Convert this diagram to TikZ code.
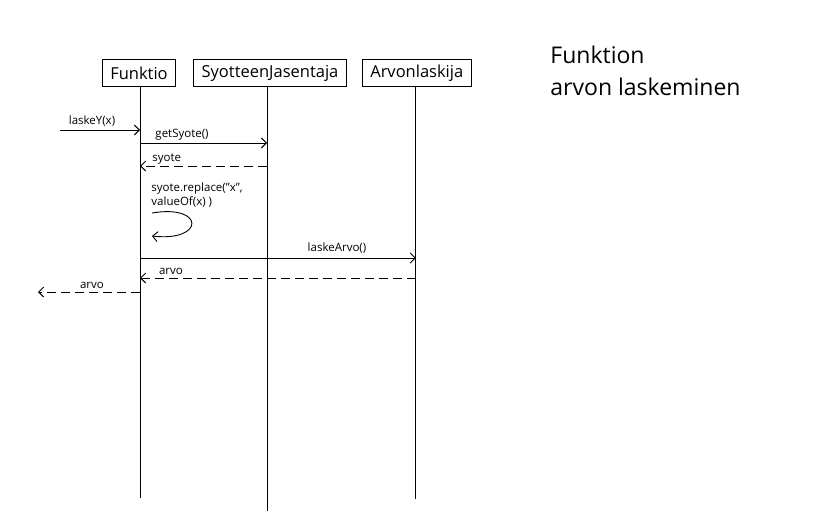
\documentclass[tikz,border=0pt]{standalone}
\usepackage{fontspec}
\setmainfont{Open Sans}
\usetikzlibrary{positioning, arrows.meta}

\begin{document}
\begin{tikzpicture}[x=1pt, y=-1pt, >={Straight Barb[length=5pt, width=10pt]}, line width=0.9pt]
    \tikzset{object/.style = {draw, rectangle, align=center, font=\fontsize{16.5}{18}\selectfont,
                              minimum height=27pt, inner xsep=8pt, inner ysep=2pt},
             call/.style = {->},
             reply/.style = {->, dash pattern=on 9pt off 5pt},
             msg/.style = {font=\fontsize{11.5}{13.5}\selectfont, inner sep=0pt, align=left}
            }
    \useasboundingbox (0,0) rectangle (819,522);
    \node (funktio) [object] at (139,73) {Funktio};
    \node (jasentaja) [object, right =17pt of funktio] {SyotteenJasentaja};
    \node (laskija) [object, right =15pt of jasentaja] {Arvonlaskija};
    \node (title) [anchor=north west, align=left, inner sep=0pt,
                   font=\fontsize{23}{32}\selectfont] at (550,46) {Funktion\\arvon laskeminen};
    % lifelines
    \coordinate (funktioTop) at ([xshift=1pt]funktio.south);
    \coordinate (jasentajaTop) at ([xshift=-3pt]jasentaja.south);
    \coordinate (laskijaTop) at ([xshift=-1pt]laskija.south);
    \coordinate (funktioEnd) at (funktioTop |- 0,498);
    \coordinate (jasentajaEnd) at (jasentajaTop |- 0,511);
    \coordinate (laskijaEnd) at (laskijaTop |- 0,499);
    \draw (funktioTop) -- (funktioEnd);
    \draw (jasentajaTop) -- (jasentajaEnd);
    \draw (laskijaTop) -- (laskijaEnd);
    % messages
    \coordinate (caller) at (60,130);
    \coordinate (result) at (38,292);
    \draw[call] (caller) -- (caller -| funktioTop);
    \draw[call] (funktioTop |- 0,143) -- (jasentajaTop |- 0,143);
    \draw[reply] (jasentajaTop |- 0,166) -- (funktioTop |- 0,166);
    \draw[call] (funktioTop |- 0,258) -- (laskijaTop |- 0,258);
    \draw[reply] (laskijaTop |- 0,278) -- (funktioTop |- 0,278);
    \draw[reply] (funktioTop |- result) -- (result);
    \coordinate (loopStart) at (152,213);
    \coordinate (loopEnd) at (152,236);
    \draw[call] (loopStart) .. controls (205,204) and (205,242) .. (loopEnd);
    \node (laskeY) [msg] at (92,121) {laskeY(x)};
    \node (getSyote) [msg, anchor=west] at (155,135) {getSyote()};
    \node (syote) [msg, anchor=west] at (152,159) {syote};
    \node (replace) [msg, anchor=west] at (151,195) {syote.replace("x",\\valueOf(x) )};
    \node (laskeArvo) [msg] at (337,248) {laskeArvo()};
    \node (arvo) [msg] at (171,271) {arvo};
    \node (arvoOut) [msg] at (92,285) {arvo};
\end{tikzpicture}
\end{document}
